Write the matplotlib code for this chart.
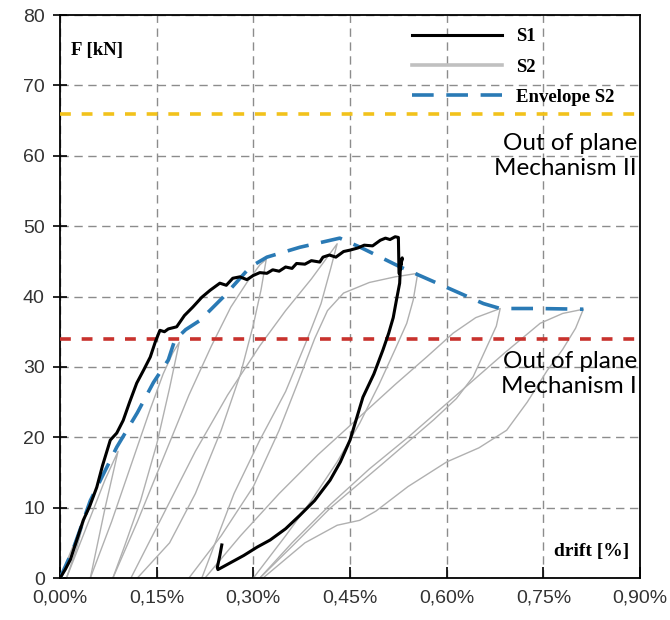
import matplotlib.pyplot as plt
import numpy as np

# S1 curve (drift %, force kN)
s1_drift = [0.0, 0.008, 0.016, 0.026, 0.036, 0.046, 0.057, 0.066, 0.078, 0.088, 0.098, 0.108,
            0.119, 0.13, 0.14, 0.148, 0.155, 0.162, 0.168, 0.181, 0.193, 0.206, 0.22, 0.233,
            0.248, 0.258, 0.268, 0.279, 0.29, 0.30, 0.31, 0.321, 0.33, 0.34, 0.35, 0.36, 0.367,
            0.38, 0.39, 0.403, 0.408, 0.418, 0.428, 0.44, 0.45, 0.462, 0.472, 0.485, 0.497,
            0.505, 0.512, 0.52, 0.525, 0.526, 0.531, 0.528, 0.527, 0.522, 0.517, 0.51, 0.501,
            0.487, 0.47, 0.45, 0.435, 0.419, 0.395, 0.372, 0.35, 0.326, 0.306, 0.285, 0.265,
            0.245, 0.244, 0.248, 0.251]
s1_force = [0.0, 1.2, 2.6, 5.4, 8.2, 10.2, 12.9, 16.0, 19.6, 20.6, 22.4, 25.0,
            27.7, 29.6, 31.4, 33.6, 35.2, 35.0, 35.4, 35.7, 37.3, 38.5, 39.9, 40.9,
            41.9, 41.6, 42.6, 42.8, 42.4, 43.0, 43.4, 43.3, 43.8, 43.6, 44.2, 44.0, 44.7,
            44.6, 45.1, 44.9, 45.6, 45.9, 45.6, 46.4, 46.6, 46.9, 47.3, 47.2, 48.0,
            48.3, 48.1, 48.5, 48.4, 43.3, 45.5, 44.0, 41.9, 39.5, 37.0, 34.8, 32.4,
            29.0, 25.7, 19.6, 16.5, 13.9, 11.0, 8.9, 7.0, 5.4, 4.4, 3.2, 2.2,
            1.2, 1.5, 3.2, 4.7]

# Envelope S2
env_drift = [0.0, 0.02, 0.047, 0.088, 0.12, 0.145, 0.168, 0.178, 0.195, 0.217, 0.253, 0.295,
             0.321, 0.372, 0.434, 0.466, 0.528, 0.60, 0.657, 0.683, 0.74, 0.812]
env_force = [0.0, 4.0, 11.0, 18.6, 23.5, 27.8, 31.0, 33.8, 35.3, 36.6, 39.9, 44.2,
             45.6, 47.0, 48.3, 47.0, 44.2, 41.3, 39.0, 38.3, 38.3, 38.2]

# S2 hysteresis loops, each one: list of (drift %, force kN)
s2_cycles = [
    [(0.0, 0.0), (0.02, 4.5), (0.04, 9.0), (0.025, 4.0), (0.01, 0.0)],
    [(0.01, 0.0), (0.04, 7.0), (0.07, 14.0), (0.09, 18.0), (0.07, 10.0), (0.047, 0.0)],
    [(0.047, 0.0), (0.08, 8.0), (0.11, 16.0), (0.14, 24.0), (0.16, 29.0), (0.175, 32.0),
     (0.185, 33.5), (0.17, 27.0), (0.15, 19.0), (0.125, 11.0), (0.1, 4.5), (0.082, 0.0)],
    [(0.082, 0.0), (0.12, 8.0), (0.16, 17.0), (0.2, 26.0), (0.235, 33.0), (0.265, 38.5),
     (0.29, 42.0), (0.31, 44.5), (0.32, 45.3), (0.312, 41.0), (0.30, 36.0), (0.28, 29.0),
     (0.25, 21.0), (0.21, 12.0), (0.17, 5.0), (0.12, 0.0)],
    [(0.11, 0.0), (0.16, 9.0), (0.21, 18.0), (0.26, 26.0), (0.31, 33.0), (0.35, 38.0),
     (0.39, 42.5), (0.41, 45.0), (0.43, 47.5), (0.42, 44.0), (0.405, 39.0), (0.383, 33.8),
     (0.35, 26.5), (0.31, 19.6), (0.27, 12.0), (0.245, 6.0), (0.22, 0.0)],
    [(0.20, 0.0), (0.25, 6.0), (0.30, 13.0), (0.34, 21.0), (0.37, 28.0), (0.395, 34.0),
     (0.415, 38.0), (0.44, 40.5), (0.48, 42.0), (0.52, 42.8), (0.555, 43.3),
     (0.548, 39.5), (0.538, 36.2), (0.52, 32.5), (0.495, 27.5), (0.465, 22.0),
     (0.43, 16.5), (0.39, 11.0), (0.35, 6.0), (0.30, 0.0)],
    [(0.225, 0.0), (0.28, 6.0), (0.34, 12.0), (0.40, 17.5), (0.46, 22.5), (0.52, 27.5),
     (0.57, 31.5), (0.61, 34.8), (0.645, 37.0), (0.683, 38.3), (0.677, 35.8),
     (0.667, 33.8), (0.641, 28.6), (0.615, 25.5), (0.58, 22.5), (0.50, 16.2),
     (0.42, 10.0), (0.36, 4.5), (0.31, 0.0)],
    [(0.31, 0.0), (0.36, 5.0), (0.42, 10.5), (0.48, 15.5), (0.54, 20.0), (0.59, 24.0),
     (0.64, 28.0), (0.69, 32.0), (0.745, 36.2), (0.78, 37.6), (0.812, 38.2),
     (0.80, 35.5), (0.78, 32.5), (0.756, 29.5), (0.725, 25.0), (0.693, 21.0),
     (0.65, 18.5), (0.60, 16.5), (0.54, 13.0), (0.49, 9.5), (0.465, 8.2), (0.43, 7.5),
     (0.38, 5.0), (0.315, 0.0)],
]

mech_1 = 34
mech_2 = 66

x_ticks = [0.0, 0.15, 0.30, 0.45, 0.60, 0.75, 0.90]
x_labels = ['0,00%', '0,15%', '0,30%', '0,45%', '0,60%', '0,75%', '0,90%']
y_ticks = [0, 10, 20, 30, 40, 50, 60, 70, 80]

fig = plt.figure(figsize=(6.7, 6.2), dpi=100)
ax = fig.add_axes([0.0896, 0.0677, 0.8657, 0.908])

ax.grid(True, color='#8c8c8c', linestyle=(0, (6, 4)), linewidth=1.0)
ax.set_axisbelow(True)

for i, cyc in enumerate(s2_cycles):
    xs = [p[0] for p in cyc]
    ys = [p[1] for p in cyc]
    ax.plot(xs, ys, color='#b0b0b0', lw=1.0, label='S2' if i == 0 else None, zorder=2)

ax.plot(env_drift, env_force, color='#2a7ab5', lw=2.6, linestyle=(0, (6, 3.5)),
        label='Envelope S2', zorder=4)
ax.plot(s1_drift, s1_force, color='black', lw=2.2, label='S1', zorder=5)

ax.axhline(mech_2, color='#f2c21b', lw=2.6, linestyle=(0, (3, 3)), zorder=3)
ax.axhline(mech_1, color='#c8322d', lw=2.6, linestyle=(0, (3, 3)), zorder=3)

ax.text(0.895, 60.0, 'Out of plane\nMechanism II', ha='right', va='center',
        fontsize=17.5, family='Lato', linespacing=1.25)
ax.text(0.895, 29.0, 'Out of plane\nMechanism I', ha='right', va='center',
        fontsize=17.5, family='Lato', linespacing=1.25)

ax.text(0.017, 75.0, 'F [kN]', fontsize=13.5, fontweight='bold', family='Liberation Serif',
        ha='left', va='center')
ax.text(0.883, 3.8, 'drift [%]', fontsize=14, fontweight='bold', family='Liberation Serif',
        ha='right', va='center')

ax.set_xlim(0, 0.90)
ax.set_ylim(0, 80)
ax.set_xticks(x_ticks)
ax.set_xticklabels(x_labels, family='Liberation Sans', fontsize=14, color='#333333')
ax.set_yticks(y_ticks)
ax.set_yticklabels([str(v) for v in y_ticks], family='Liberation Sans', fontsize=14,
                   color='#333333')
ax.tick_params(axis='x', direction='in', length=8, width=1.2, pad=8)
ax.tick_params(axis='y', direction='inout', length=10, width=1.2, pad=6)
for s in ax.spines.values():
    s.set_linewidth(1.3)
    s.set_color('black')

handles, labels = ax.get_legend_handles_labels()
order = [labels.index('S1'), labels.index('S2'), labels.index('Envelope S2')]
leg = ax.legend([handles[k] for k in order], [labels[k] for k in order],
                loc='upper left', bbox_to_anchor=(0.585, 1.0), frameon=False,
                handlelength=4.8, handletextpad=0.7, labelspacing=0.7, borderaxespad=0.3,
                prop={'family': 'Liberation Serif', 'weight': 'bold', 'size': 13.5})
leg.get_lines()[1].set_linewidth(2.6)
leg.get_lines()[1].set_color('#c0c0c0')

fig.savefig('out.png', dpi=100)
